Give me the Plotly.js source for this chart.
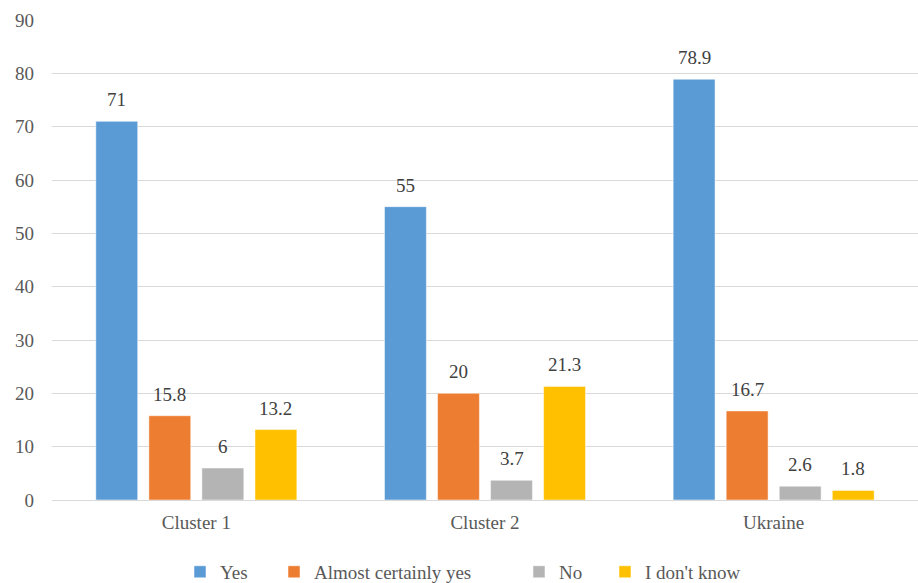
<!DOCTYPE html>
<html><head><meta charset="utf-8">
<script src="https://cdn.plot.ly/plotly-3.0.1.min.js"></script>
<style>html,body{margin:0;padding:0;background:#fff}#chart{width:918px;height:583px}
#chart text{font-family:"Liberation Serif","Times New Roman",serif !important}</style>
</head><body><div id="chart"></div>
<script>
const categories = ["Cluster 1", "Cluster 2", "Ukraine"];
const seriesNames = ["Yes", "Almost certainly yes", "No", "I don't know"];
const yesVals = [71, 55, 78.9];
const almostVals = [15.8, 20, 16.7];
const noVals = [6, 3.7, 2.6];
const dontKnowVals = [13.2, 21.3, 1.8];
const colors = ["#5B9BD5", "#ED7D31", "#B4B4B4", "#FFC000"];
const yTicks = [0, 10, 20, 30, 40, 50, 60, 70, 80, 90];

const W = 918, H = 583;
const margin = {l: 52, r: 0, t: 20, b: 83};
const bargap = 0.265;
const allVals = [yesVals, almostVals, noVals, dontKnowVals];
const legendNames = ["legend", "legend2", "legend3", "legend4"];
const legendX = [180, 274, 519, 605];

const font = "Liberation Serif";
const traces = allVals.map((v, i) => ({
  type: "bar", x: categories, y: v, name: seriesNames[i],
  legend: legendNames[i],
  marker: {color: colors[i], line: {color: "rgba(255,255,255,0.5)", width: 1}},
  hoverinfo: "none"
}));

const plotW = W - margin.l - margin.r;
const catW = plotW / categories.length;
const slot = catW * (1 - bargap) / allVals.length;
const annotations = [];
allVals.forEach((v, i) => {
  v.forEach((val, j) => {
    annotations.push({
      x: categories[j], y: val, xref: "x", yref: "y", text: String(val),
      showarrow: false, yanchor: "bottom", yshift: 9,
      xshift: (i - (allVals.length - 1) / 2) * slot,
      font: {family: font, size: 19, color: "#404040"}
    });
  });
});

const layout = {
  width: W, height: H, margin: margin,
  paper_bgcolor: "#fff", plot_bgcolor: "#fff",
  barmode: "group", bargap: bargap, bargroupgap: 0.21,
  font: {family: font, size: 19, color: "#595959"},
  xaxis: {type: "category", showgrid: false, showline: false, zeroline: false,
          ticks: "", ticklabelstandoff: 9, tickfont: {family: font, size: 19, color: "#595959"}},
  yaxis: {range: [0, 90], tickvals: yTicks, ticktext: yTicks.map(String),
          showgrid: true, gridcolor: "#D9D9D9", gridwidth: 1,
          zeroline: true, zerolinecolor: "#D9D9D9", zerolinewidth: 1,
          showline: false, ticks: "", ticklabelstandoff: 17,
          tickfont: {family: font, size: 19, color: "#595959"}},
  showlegend: true,
  annotations: annotations
};
legendNames.forEach((ln, i) => {
  layout[ln] = {orientation: "h", xref: "container", yref: "container",
    x: legendX[i] / W, xanchor: "left", y: 0.019, yanchor: "middle",
    font: {family: font, size: 19, color: "#595959"},
    itemwidth: 30, bgcolor: "rgba(0,0,0,0)"};
});
Plotly.newPlot("chart", traces, layout, {displayModeBar: false, staticPlot: true});
</script></body></html>
